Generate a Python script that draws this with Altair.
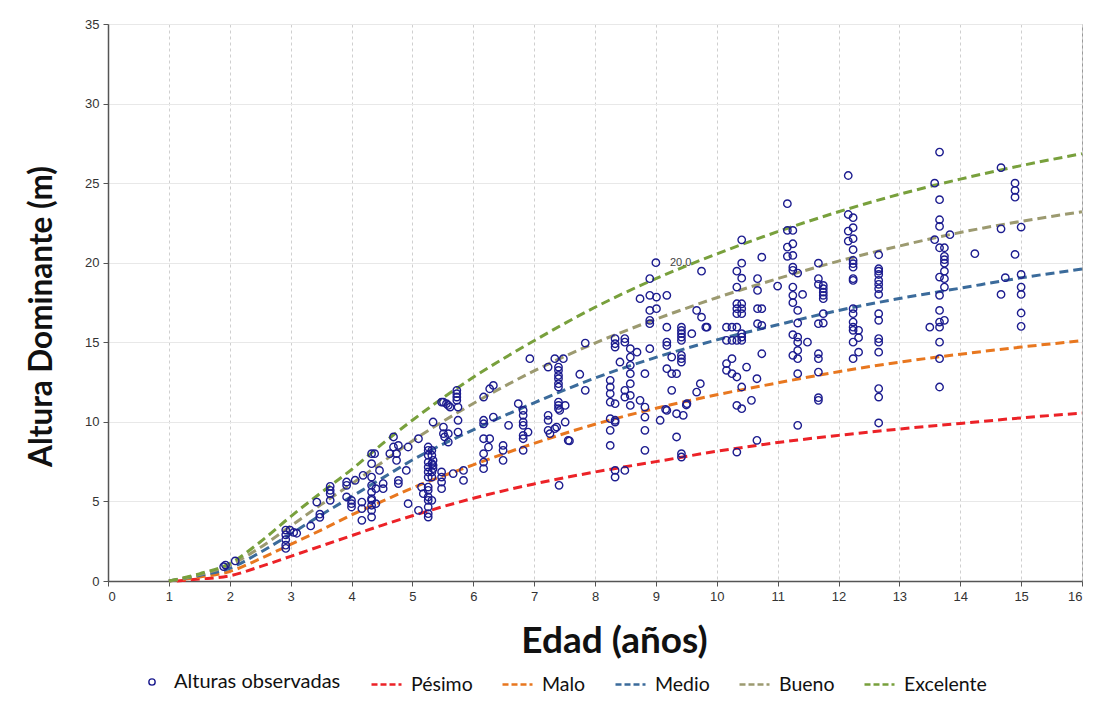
import altair as alt
import pandas as pd

# ---- Site-quality curves ----
edades = [1.0, 1.5, 2.0, 2.5, 3.0, 3.5, 4.0, 4.5, 5.0, 6, 7, 8, 9, 10, 11, 12, 13, 14, 15, 16]
edades_pesimo = [1.13, 1.5, 2.0, 2.5, 3.0, 3.5, 4.0, 4.5, 5.0, 6, 7, 8, 9, 10, 11, 12, 13, 14, 15, 16]
pesimo = [0.0, 0.12, 0.33, 0.9, 1.55, 2.2, 2.85, 3.5, 4.1, 5.2, 6.1, 6.85, 7.5, 8.15, 8.7, 9.15, 9.55, 9.9, 10.25, 10.55]
malo = [0.0, 0.25, 0.6, 1.4, 2.3, 3.2, 4.15, 5.0, 5.85, 7.3, 8.65, 9.85, 10.85, 11.7, 12.45, 13.15, 13.75, 14.25, 14.7, 15.1]
medio = [0.0, 0.35, 0.8, 1.8, 2.95, 4.15, 5.3, 6.45, 7.6, 9.5, 11.2, 12.75, 14.05, 15.15, 16.1, 17.0, 17.75, 18.4, 19.05, 19.6]
bueno = [0.0, 0.4, 1.0, 2.1, 3.45, 4.8, 6.1, 7.45, 8.8, 11.15, 13.2, 14.95, 16.45, 17.8, 19.0, 20.1, 21.05, 21.9, 22.6, 23.2]
excelente = [0.0, 0.45, 1.1, 2.45, 4.05, 5.55, 7.0, 8.6, 10.1, 12.8, 15.1, 17.2, 19.0, 20.55, 21.95, 23.2, 24.3, 25.25, 26.1, 26.85]

calidades = ["Pésimo", "Malo", "Medio", "Bueno", "Excelente"]
colores = ["#ec2227", "#e8771f", "#3b6b9b", "#9c9a70", "#78a03c"]

# ---- Observed heights (age, height) ----
obs_edad = [
    1.9, 1.93, 2.09,
    2.92, 2.92, 2.92, 2.92, 2.92, 2.99, 3.1, 3.05,
    3.33, 3.48, 3.48, 3.43, 3.65, 3.65, 3.65, 3.65, 3.92, 3.92, 3.92, 4.0, 4.0, 4.0, 4.06,
    4.17, 4.17, 4.17, 4.19, 4.33, 4.33, 4.33, 4.33, 4.33, 4.33, 4.33, 4.33, 4.33, 4.33, 4.38, 4.4, 4.4, 4.46, 4.52, 4.52,
    4.69, 4.69, 4.63, 4.74, 4.74, 4.77, 4.77, 4.77, 4.9, 4.93, 4.93,
    5.1, 5.1, 5.26, 5.26, 5.26, 5.26, 5.26, 5.26, 5.26, 5.26, 5.26, 5.26, 5.26, 5.26, 5.26, 5.26,
    5.32, 5.32, 5.32, 5.32, 5.32, 5.32, 5.15, 5.18, 5.34, 5.34, 5.34, 5.34,
    5.48, 5.48, 5.48, 5.48, 5.51, 5.51, 5.53, 5.56, 5.62, 5.67, 5.75, 5.75, 5.84, 5.84,
    5.73, 5.73, 5.73, 5.73, 5.51, 5.59, 5.48, 5.59, 5.75, 5.59,
    6.17, 6.17, 6.17, 6.17, 6.17, 6.17, 6.17, 6.27, 6.33, 6.33, 6.27, 6.25, 6.49, 6.49, 6.49, 6.58,
    6.74, 6.82, 6.82, 6.82, 6.82, 6.82, 6.82, 6.82, 6.9, 6.93,
    7.23, 7.23, 7.23, 7.23, 7.26, 7.34, 7.34, 7.37, 7.4, 7.4, 7.4, 7.4, 7.4, 7.4, 7.4, 7.4, 7.4, 7.42,
    7.48, 7.51, 7.51, 7.56, 7.75, 7.84, 7.84, 7.41, 7.58,
    8.25, 8.25, 8.25, 8.25, 8.25, 8.25, 8.25, 8.33, 8.33, 8.33, 8.33, 8.33, 8.49, 8.49, 8.49, 8.49, 8.41,
    8.58, 8.58, 8.58, 8.58, 8.58, 8.58, 8.58, 8.69, 8.74, 8.82, 8.82, 8.82, 8.82, 8.82,
    8.9, 8.9, 8.9, 8.9, 9.01, 8.9, 9.01, 9.18, 8.74, 8.9, 9.0, 8.49, 8.33, 8.33, 8.33,
    9.75, 9.67, 9.75, 9.84, 9.18, 9.18, 9.18, 9.18, 9.26, 9.26, 9.26, 9.34, 9.42, 9.42, 9.42, 9.42, 9.42,
    9.42, 9.42, 9.42, 9.59, 9.73, 9.67, 9.51, 9.34, 9.45, 9.18, 9.07, 9.34, 9.42, 9.42, 9.16, 9.5, 9.82,
    10.41, 10.41, 10.33, 10.41, 10.33, 10.33, 10.33, 10.33, 10.41, 10.41, 10.41, 10.33, 10.41, 10.41, 10.41,
    10.33, 10.25, 10.16, 10.25, 10.16, 10.25, 10.16, 10.16, 10.25, 10.33, 10.49, 10.41, 10.66, 10.33, 10.41,
    10.57, 10.66, 10.33, 10.74, 10.67, 10.67, 10.67, 10.74, 10.67, 10.74, 10.74, 11.0,
    11.16, 11.16, 11.25, 11.16, 11.25, 11.16, 11.25, 11.25, 11.25, 11.33, 11.25, 11.25, 11.41, 11.25, 11.33,
    11.33, 11.25, 11.33, 11.33, 11.49, 11.25, 11.33, 11.33, 11.33, 11.33,
    11.67, 11.67, 11.67, 11.75, 11.75, 11.75, 11.75, 11.75, 11.75, 11.67, 11.75, 11.67, 11.67, 11.67, 11.67, 11.67,
    12.16, 12.16, 12.24, 12.16, 12.24, 12.16, 12.24, 12.24, 12.24, 12.24, 12.24, 12.24, 12.24, 12.24, 12.24,
    12.24, 12.24, 12.24, 12.33, 12.24, 12.33, 12.33, 12.24,
    12.66, 12.66, 12.66, 12.66, 12.66, 12.66, 12.66, 12.66, 12.66, 12.66, 12.66, 12.66, 12.66, 12.66, 12.66, 12.66,
    13.58, 13.66, 13.66, 13.66, 13.66, 13.58, 13.83, 13.66, 13.74, 13.74, 13.74, 13.74, 13.74, 13.66, 13.74,
    13.74, 13.66, 13.66, 13.74, 13.66, 13.66, 13.5, 13.66, 13.66, 13.66,
    14.24, 14.67, 14.9, 14.9, 14.9, 14.67, 15.0, 14.9, 14.74, 15.0, 14.67, 15.0, 15.0, 15.0, 15.0,
]
obs_altura = [
    0.9, 1.0, 1.26,
    3.2, 2.9, 2.6, 2.25, 2.05, 3.2, 3.0, 3.05,
    3.46, 4.0, 4.2, 4.96, 5.07, 5.49, 5.7, 5.95, 5.28, 6.01, 6.22, 4.86, 5.07, 4.65, 6.33,
    3.81, 4.55, 4.96, 6.64, 4.02, 4.44, 4.76, 5.07, 5.18, 5.59, 6.01, 6.53, 7.37, 8.0, 8.0, 4.86, 5.8, 6.95, 5.8, 6.12,
    9.05, 8.42, 8.0, 8.0, 7.58, 8.52, 6.32, 6.12, 6.95, 8.42, 4.86,
    8.94, 4.44, 4.02, 4.23, 4.65, 5.07, 5.28, 5.7, 5.9, 6.53, 6.85, 7.16, 7.47, 7.9, 8.21, 8.42,
    7.9, 8.21, 6.85, 5.07, 7.37, 6.53, 5.9, 5.49, 9.99, 7.58, 7.27, 7.06,
    6.85, 6.53, 6.22, 5.8, 9.26, 9.67, 9.05, 11.14, 10.93, 6.75, 10.1, 9.36, 6.95, 6.32,
    11.98, 11.77, 11.56, 11.35, 11.24, 11.03, 11.24, 8.73, 10.93, 9.26,
    11.56, 10.1, 9.88, 8.94, 8.0, 7.47, 7.06, 12.08, 12.29, 10.3, 8.94, 8.42, 8.52, 8.21, 7.58, 9.78,
    11.14, 10.72, 10.41, 9.99, 9.78, 9.15, 8.94, 8.21, 9.36, 13.97,
    13.44, 10.41, 10.1, 9.47, 9.26, 13.97, 9.57, 9.67, 13.44, 13.23, 12.92, 12.71, 12.4, 12.19, 11.24, 11.03, 10.83, 10.72,
    13.97, 11.03, 9.99, 8.84, 12.99, 11.98, 14.95, 6.01, 8.8,
    12.61, 12.19, 11.77, 11.24, 10.2, 9.47, 8.52, 15.23, 14.91, 14.7, 11.14, 10.1, 15.23, 15.01, 11.98, 11.56, 13.76,
    14.6, 14.07, 13.55, 13.03, 12.4, 11.66, 11.03, 14.38, 11.35, 13.03, 10.93, 10.3, 9.47, 8.21,
    14.6, 16.38, 16.17, 17.0, 17.11, 17.95, 17.84, 17.95, 17.74, 19.0, 20.0, 6.95, 6.95, 6.53, 9.99,
    19.47, 17.0, 16.58, 15.95, 15.95, 15.01, 14.8, 13.34, 14.07, 11.98, 13.03, 13.03, 15.95, 15.74, 15.54, 15.33, 15.12,
    14.18, 13.97, 13.76, 15.54, 12.4, 11.87, 11.14, 10.51, 10.41, 10.72, 10.1, 9.05, 8.0, 7.79, 10.78, 11.06, 15.95,
    21.44, 19.97, 19.47, 19.03, 18.47, 17.42, 17.11, 16.8, 17.42, 17.11, 16.8, 15.95, 15.54, 15.33, 15.12,
    15.12, 15.12, 15.95, 15.95, 15.12, 13.97, 13.66, 13.24, 13.03, 12.82, 13.44, 12.19, 12.71, 11.03, 10.83,
    11.35, 8.84, 8.1, 20.35, 19.0, 18.26, 17.11, 17.11, 16.17, 16.06, 14.28, 18.53,
    23.71, 22.03, 22.03, 20.98, 21.19, 20.4, 20.46, 19.72, 19.52, 19.35, 18.47, 17.95, 18.01, 17.49, 17.0,
    16.21, 15.48, 15.33, 15.01, 15.01, 14.18, 14.49, 13.97, 13.03, 9.78,
    19.97, 19.0, 18.64, 18.57, 18.37, 18.15, 17.95, 17.74, 16.8, 16.17, 16.21, 14.28, 13.97, 13.13, 11.52, 11.35,
    25.48, 23.03, 22.83, 21.99, 22.2, 21.36, 21.51, 20.82, 20.14, 19.94, 19.72, 19.0, 18.89, 17.11, 16.8,
    16.27, 15.95, 15.75, 15.75, 15.01, 15.29, 14.38, 13.97,
    20.5, 19.62, 19.47, 19.26, 18.89, 18.64, 18.37, 18.01, 16.8, 16.38, 15.23, 15.01, 14.38, 12.09, 11.56, 9.93,
    25.0, 26.95, 23.96, 22.7, 22.28, 21.45, 21.76, 20.94, 20.94, 20.4, 20.19, 19.97, 19.47, 19.1, 19.0,
    18.47, 17.95, 17.0, 16.38, 16.27, 15.95, 15.95, 15.01, 13.97, 12.19,
    20.57, 25.97, 25.0, 24.54, 24.12, 22.13, 22.24, 20.52, 19.06, 19.26, 18.01, 18.47, 18.01, 16.84, 16.0,
]

etiqueta_edad = [9.0]
etiqueta_altura = [20.0]
etiqueta_texto = ["20.0"]

# ---- Tables ----
filas = []
for nombre, xs, ys in [("Pésimo", edades_pesimo, pesimo), ("Malo", edades, malo),
                       ("Medio", edades, medio), ("Bueno", edades, bueno),
                       ("Excelente", edades, excelente)]:
    for x, y in zip(xs, ys):
        filas.append({"edad": x, "altura": y, "calidad": nombre})
curvas = pd.DataFrame(filas)

n = min(len(obs_edad), len(obs_altura))
puntos = pd.DataFrame({"edad": obs_edad[:n], "altura": obs_altura[:n],
                       "serie": ["Alturas observadas"] * n})
etiquetas = pd.DataFrame({"edad": etiqueta_edad, "altura": etiqueta_altura, "texto": etiqueta_texto})

LABEL_FONT = "Liberation Sans"
TITLE_FONT = "Lato"
LEG_FONT = "Lato"

x_enc = alt.X("edad:Q", scale=alt.Scale(domain=[0, 16], nice=False),
              axis=alt.Axis(values=list(range(17)), title="Edad (años)", format="d",
                            gridDash=[3, 3], gridColor="#cfcfcf",
                            titleX=506, titleY=60, titleAlign="center", titleBaseline="middle",
                            titleFontSize=37, titleFont=TITLE_FONT, titleFontWeight="bold",
                            titleColor="#111111"))
y_enc = alt.Y("altura:Q", scale=alt.Scale(domain=[0, 35], nice=False),
              axis=alt.Axis(values=[0, 5, 10, 15, 20, 25, 30, 35], title="Altura Dominante (m)",
                            gridColor="#e8e8e8",
                            titleX=-66, titleY=292, titleAlign="center", titleBaseline="middle",
                            titleAngle=270,
                            titleFontSize=31.5, titleFont=TITLE_FONT, titleFontWeight="bold",
                            titleColor="#111111"))

lineas = alt.Chart(curvas).mark_line(strokeDash=[9, 5], strokeWidth=3, interpolate="monotone").encode(
    x=x_enc, y=y_enc,
    color=alt.Color("calidad:N", scale=alt.Scale(domain=calidades, range=colores),
                    legend=alt.Legend(orient="none", legendX=262, legendY=644, direction="horizontal",
                                      title=None, symbolType="stroke", symbolDash=[6, 3],
                                      symbolStrokeWidth=2.5, symbolSize=900,
                                      labelFont=LEG_FONT, labelFontSize=19.5, labelColor="#111111",
                                      labelOffset=8, columnPadding=24, labelLimit=300)),
    detail="calidad:N",
)

circulos = alt.Chart(puntos).mark_point(shape="circle", filled=False, size=55, strokeWidth=1.4,
                                        color="#1c1c8f", opacity=1).encode(
    x="edad:Q", y="altura:Q",
    shape=alt.Shape("serie:N", scale=alt.Scale(domain=["Alturas observadas"], range=["circle"]),
                    legend=alt.Legend(orient="none", legendX=34, legendY=648, direction="horizontal",
                                      title=None, symbolSize=40, symbolStrokeColor="#1c1c8f",
                                      symbolFillColor="transparent", symbolStrokeWidth=1.4,
                                      labelFont=LEG_FONT, labelFontSize=20, labelColor="#111111",
                                      labelOffset=12, labelLimit=300)),
)

texto = alt.Chart(etiquetas).mark_text(align="left", dx=14, fontSize=11, color="#444444",
                                       font=LABEL_FONT).encode(
    x="edad:Q", y="altura:Q", text="texto:N")

chart = alt.layer(lineas, circulos, texto).properties(
    width=974, height=557,
    autosize=alt.AutoSizeParams(type="none"),
    padding={"left": 100, "top": 16, "right": 8, "bottom": 110},
    background="white",
).configure_view(
    stroke="#9a9a9a", strokeWidth=1
).configure_axis(
    labelFont=LABEL_FONT, labelFontSize=13, labelColor="#333333",
    domainColor="#555555", domainWidth=1.5, tickColor="#555555", tickSize=5,
    labelPadding=4,
)

chart.save("out.html", embed_options={"renderer": "svg", "actions": False})
